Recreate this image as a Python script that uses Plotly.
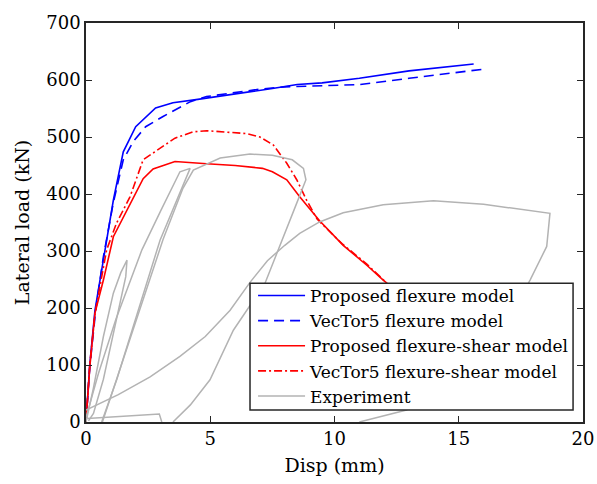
import plotly.graph_objects as go

# Proposed flexure model
flex_prop_x = [0, 0.15, 0.36, 0.7, 1.1, 1.5, 2.0, 2.8, 3.5, 4.5, 6.0, 7.5, 8.5, 9.5, 11.0, 13.0, 15.6]
flex_prop_y = [0, 100, 196, 284, 389, 474, 518, 551, 560, 566, 575, 585, 592, 595, 603, 616, 628]

# VecTor5 flexure model
flex_v5_x = [0, 0.15, 0.4, 0.7, 1.1, 1.5, 1.9, 2.4, 3.1, 4.2, 4.85, 6.0, 7.0, 8.0, 9.0, 10.0, 11.0, 13.0, 16.0]
flex_v5_y = [0, 95, 200, 290, 385, 460, 492, 518, 536, 562, 571, 578, 584, 588, 589, 590, 592, 603, 619]

# Proposed flexure-shear model
fs_prop_x = [0, 0.15, 0.36, 0.7, 1.1, 1.64, 2.3, 2.7, 3.58, 4.86, 6.0, 7.1, 7.5, 8.08, 8.6, 9.4, 10.35, 11.3, 11.96, 12.6]
fs_prop_y = [0, 95, 191, 249, 325, 372, 427, 444, 457, 453, 450, 445, 439, 425, 395, 353, 310, 275, 249, 226]

# VecTor5 flexure-shear model
fs_v5_x = [0, 0.15, 0.36, 0.83, 1.23, 1.77, 2.3, 2.78, 3.58, 4.3, 4.86, 6.47, 7.0, 7.54, 8.08, 8.48, 8.88, 9.3, 10.3, 11.3, 12.0]
fs_v5_y = [0, 100, 190, 302, 349, 395, 460, 474, 498, 509, 511, 506, 500, 486, 454, 425, 389, 356, 313, 277, 248]

# Experiment (cyclic response, positive side; None separates visible pieces)
exp_x = [0, 0.3, 0.7, 1.1, 1.4, 1.65, 1.6, 1.4, 1.1, 0.7, 0.3, 0.1, None,
         0.05, 1.5, 2.2, 2.95, 3.05, None,
         0, 0.5, 1.2, 2.25, 3.0, 3.78, 4.19, 2.98, 1.235, 0.63, None,
         0.66, 1.3, 2.3, 3.1, 3.9, 4.32, 5.4, 6.6, 7.5, 8.3, 8.75, 8.85, 8.48, 7.67, 7.2, 5.93, 4.99, 4.2, 3.5, None,
         0, 1.3, 2.58, 3.78, 4.8, 5.8, 6.6, 7.3, 8.0, 8.6, 9.4, 10.35, 11.96, 13.98, 16.0, 18.67,
         18.54, 17.87, 17.0, 15.5, 14.0, 12.9, 11.0]
exp_y = [0, 60, 150, 226, 262, 284, 255, 215, 150, 75, 15, 2, None,
         6, 10, 12, 14, 0, None,
         8, 85, 180, 302, 370, 439, 445, 319, 74, 0, None,
         0, 85, 215, 320, 410, 442, 463, 470, 468, 460, 445, 425, 384, 296, 243, 161, 74, 30, 0, None,
         21, 48, 79, 115, 150, 196, 245, 283, 310, 331, 351, 367, 381, 388, 382, 366,
         308, 249, 180, 100, 50, 21, 0]

x_ticks = [0, 5, 10, 15, 20]
y_ticks = [0, 100, 200, 300, 400, 500, 600, 700]

FONT = "DejaVu Serif"
AX = "#262626"

fig = go.Figure()
fig.add_trace(go.Scatter(x=flex_prop_x, y=flex_prop_y, mode="lines",
                         name="Proposed flexure model",
                         line=dict(color="#0000ff", width=1.6)))
fig.add_trace(go.Scatter(x=flex_v5_x, y=flex_v5_y, mode="lines",
                         name="VecTor5 flexure model",
                         line=dict(color="#0000ff", width=1.6, dash="10px,6px")))
fig.add_trace(go.Scatter(x=fs_prop_x, y=fs_prop_y, mode="lines",
                         name="Proposed flexure-shear model",
                         line=dict(color="#ff0000", width=1.6)))
fig.add_trace(go.Scatter(x=fs_v5_x, y=fs_v5_y, mode="lines",
                         name="VecTor5 flexure-shear model",
                         line=dict(color="#ff0000", width=1.6, dash="8px,3px,2px,3px")))
fig.add_trace(go.Scatter(x=exp_x, y=exp_y, mode="lines", name="Experiment",
                         connectgaps=False,
                         line=dict(color="#b3b3b3", width=1.5)))

axis_common = dict(showgrid=False, zeroline=False, showline=True, linecolor=AX,
                   linewidth=1.5, mirror="allticks", ticks="inside", ticklen=6,
                   tickcolor=AX, tickwidth=1.2, automargin=False,
                   tickfont=dict(family=FONT, size=18, color="#000000"))

# Opaque legend frame drawn as a shape; legend entries sit on top of it
fig.add_shape(type="rect", xref="paper", yref="paper",
              x0=0.33, x1=0.98, y0=0.03, y1=0.348,
              fillcolor="white", line=dict(color=AX, width=1.5), layer="above")

fig.update_layout(
    width=597, height=484,
    margin=dict(l=86, r=14, t=23, b=62),
    paper_bgcolor="white", plot_bgcolor="white",
    font=dict(family=FONT, color="#000000"),
    xaxis=dict(range=[0, 20], tickvals=x_ticks,
               title=dict(text="Disp (mm)", font=dict(family=FONT, size=19), standoff=10),
               **axis_common),
    yaxis=dict(range=[0, 700], tickvals=y_ticks,
               title=dict(text="Lateral load (kN)", font=dict(family=FONT, size=19), standoff=12),
               **axis_common),
    legend=dict(x=0.98, y=0.02, xanchor="right", yanchor="bottom",
                bgcolor="rgba(0,0,0,0)", borderwidth=0,
                font=dict(family=FONT, size=17), itemwidth=47,
                tracegroupgap=0),
    showlegend=True,
)

fig.write_html("out.html")
